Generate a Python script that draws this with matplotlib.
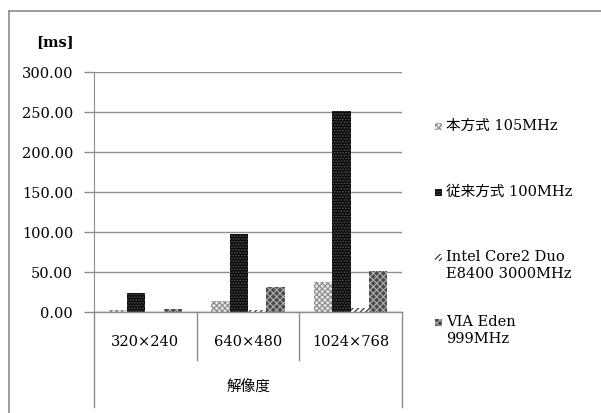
import matplotlib
matplotlib.use("Agg")
import matplotlib.pyplot as plt
import numpy as np
from matplotlib.lines import Line2D
from matplotlib.patches import Rectangle

plt.rcParams['font.family'] = ['DejaVu Serif', 'Noto Sans CJK JP']
plt.rcParams['hatch.linewidth'] = 0.8

categories = ["320×240", "640×480", "1024×768"]
series_names = ["本方式 105MHz", "従来方式 100MHz", "Intel Core2 Duo\nE8400 3000MHz", "VIA Eden\n999MHz"]
values_proposed = [2.5, 14.0, 37.0]
values_conventional = [24.0, 98.0, 251.0]
values_intel = [0.5, 3.0, 5.0]
values_via = [4.0, 31.0, 51.0]
yticks = [0, 50, 100, 150, 200, 250, 300]
ylabel_unit = "[ms]"
xlabel = "解像度"

series = [values_proposed, values_conventional, values_intel, values_via]
styles = [
    dict(facecolor="#e6e6e6", edgecolor="#8a8a8a", hatch="xxxxxx"),
    dict(facecolor="#0a0a0a", edgecolor="#555555", hatch="......"),
    dict(facecolor="#ffffff", edgecolor="#222222", hatch="//////"),
    dict(facecolor="#4a4a4a", edgecolor="#b0b0b0", hatch="xxxxx"),
]
FS = 10.5

W, H = 601, 414
fig = plt.figure(figsize=(W / 100, H / 100), dpi=100)
ax = fig.add_axes([94 / W, (H - 313) / H, (402 - 94) / W, 240 / H])

x = np.arange(len(categories))
bw = 0.178
for i, (vals, st) in enumerate(zip(series, styles)):
    ax.bar(x + (i - 1.5) * bw, vals, width=bw, linewidth=0, label=series_names[i], **st)

ax.set_xlim(-0.5, len(categories) - 0.5)
ax.set_ylim(0, 300)
ax.set_yticks(yticks)
ax.set_yticklabels([f"{v:.2f}" for v in yticks], fontsize=FS)
ax.yaxis.grid(True, color="#8c8c8c", linewidth=1)
ax.set_axisbelow(True)
for s in ["top", "right", "bottom"]:
    ax.spines[s].set_visible(False)
ax.spines["left"].set_color("#8c8c8c")
ax.tick_params(axis="y", length=7, color="#8c8c8c", width=1, pad=8)
ax.tick_params(axis="x", length=0)
ax.set_xticks([])

# category table lines below axis
tr = ax.get_xaxis_transform()
ax.plot([-0.5, len(categories) - 0.5], [0, 0], transform=tr, color="#8c8c8c", lw=1, clip_on=False)
for xb in np.arange(0.5, len(categories) - 0.5):
    ax.plot([xb, xb], [0, -48 / 240], transform=tr, color="#8c8c8c", lw=1, clip_on=False)
for xb in [-0.5, len(categories) - 0.5]:
    ax.plot([xb, xb], [0, -95 / 240], transform=tr, color="#8c8c8c", lw=1, clip_on=False)
for xi, lab in zip(x, categories):
    ax.text(xi, -29 / 240, lab, transform=tr, ha="center", va="center", fontsize=FS)
ax.text(1, -75 / 240, xlabel, transform=tr, ha="center", va="center", fontsize=FS)

fig.text(36 / W, 1 - 42 / H, ylabel_unit, fontsize=FS, fontweight="bold", ha="left", va="center")

# legend (markers aligned with the first line of each label)
leg_y = [127, 193, 258, 323]
for name, st, yy in zip(series_names, styles, leg_y):
    fig.add_artist(Rectangle((435 / W, 1 - (yy + 3.5) / H), 7 / W, 7 / H,
                             transform=fig.transFigure, linewidth=0, **st))
    fig.text(446 / W, 1 - (yy - 8) / H, name, fontsize=FS, ha="left", va="top", linespacing=1.25)

# outer frame
fig.add_artist(Line2D([9 / W, 9 / W], [0, 1 - 12 / H], color="#8c8c8c", lw=1.2))
fig.add_artist(Line2D([9 / W, 1], [1 - 12 / H, 1 - 12 / H], color="#8c8c8c", lw=1.2))

fig.savefig("out.png", dpi=100)
